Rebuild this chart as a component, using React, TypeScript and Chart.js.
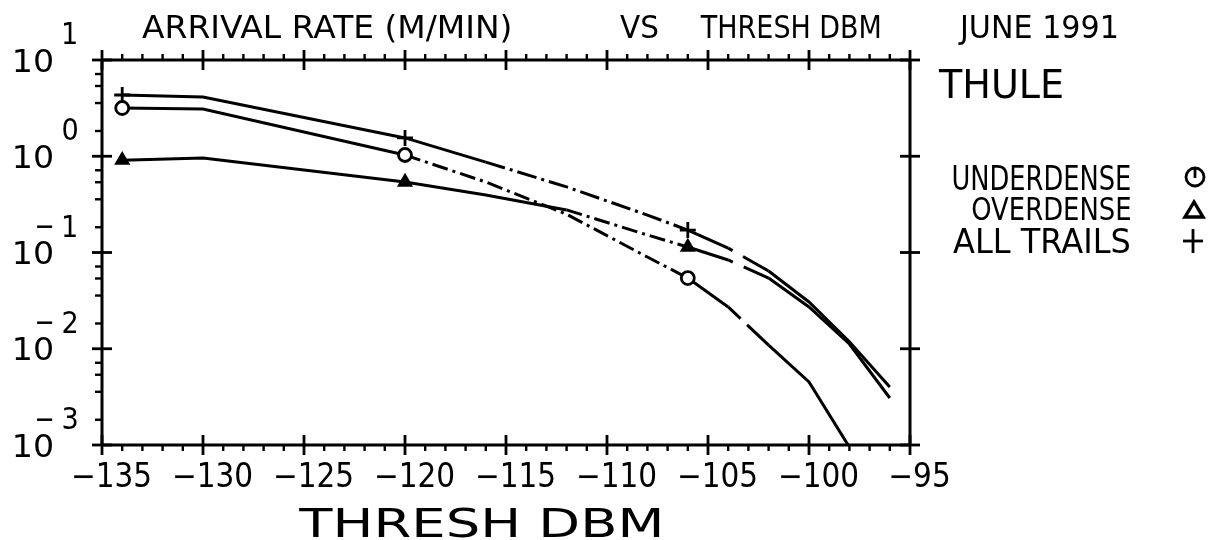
import React, { useEffect, useRef } from "react";
import { Chart, registerables } from "chart.js";

Chart.register(...registerables);

// ---- data ----
const THRESH_DBM = [-134, -130, -120, -116, -112, -108, -106, -104, -102, -100, -98, -96];
const UNDERDENSE = [3.17, 3.1, 1.03, 0.54, 0.25, 0.0897, 0.0543, 0.0272, 0.0109, 0.00452, 0.00095, null];
const OVERDENSE = [0.91, 0.96, 0.54, 0.396, 0.277, 0.152, 0.114, 0.0836, 0.0543, 0.0272, 0.0112, 0.00308];
const ALL_TRAILS = [4.33, 4.13, 1.55, 0.87, 0.48, 0.245, 0.171, 0.111, 0.0643, 0.0306, 0.0118, 0.00401];
const MARKER_X = [-134, -120, -106];

const X_TICKS = [-135, -130, -125, -120, -115, -110, -105, -100, -95];
const Y_DECADES = [1, 0, -1, -2, -3];
const Y_MINOR_MULT = [1.83, 3.57, 5.37, 7.15];

const TITLE_PARTS = ["ARRIVAL RATE (M/MIN)", "VS", "THRESH DBM", "JUNE 1991"];
const SITE = "THULE";
const X_TITLE = "THRESH DBM";
const LEGEND_LABELS = ["UNDERDENSE", "OVERDENSE", "ALL TRAILS"];

const FONT = '"DejaVu Sans", sans-serif';
const INK = "#000";

type InkOpts = {
  x: number;
  align?: "l" | "c" | "r";
  y: number;
  v?: "base" | "top" | "mid";
  w?: number;
  sx?: number;
};

function ink(ctx: CanvasRenderingContext2D, s: string, cap: number, o: InkOpts) {
  const fs = cap / 0.73;
  ctx.font = `${fs}px ${FONT}`;
  const m = ctx.measureText(s);
  const inkW = m.actualBoundingBoxLeft + m.actualBoundingBoxRight;
  const asc = m.actualBoundingBoxAscent;
  const desc = m.actualBoundingBoxDescent;
  const sx = o.w ? o.w / inkW : o.sx ?? 1;
  const W = inkW * sx;
  const align = o.align ?? "l";
  const left = align === "l" ? o.x : align === "c" ? o.x - W / 2 : o.x - W;
  const v = o.v ?? "base";
  const base = v === "base" ? o.y : v === "top" ? o.y + asc : o.y + (asc - desc) / 2;
  ctx.save();
  ctx.translate(left, base);
  ctx.scale(sx, 1);
  ctx.textAlign = "left";
  ctx.textBaseline = "alphabetic";
  ctx.fillStyle = INK;
  ctx.fillText(s, m.actualBoundingBoxLeft, 0);
  ctx.restore();
}

function line(ctx: CanvasRenderingContext2D, x1: number, y1: number, x2: number, y2: number, lw = 2.5) {
  ctx.beginPath();
  ctx.lineWidth = lw;
  ctx.moveTo(x1, y1);
  ctx.lineTo(x2, y2);
  ctx.stroke();
}

const bgPlugin = {
  id: "bg",
  beforeDraw(chart: any) {
    const ctx = chart.ctx;
    ctx.save();
    ctx.fillStyle = "#fff";
    ctx.fillRect(0, 0, chart.width, chart.height);
    ctx.restore();
  },
};

const axesPlugin = {
  id: "plotterAxes",
  afterDraw(chart: any) {
    const ctx: CanvasRenderingContext2D = chart.ctx;
    const { left, right, top, bottom } = chart.chartArea;
    const xs = chart.scales.x;
    const ys = chart.scales.y;
    ctx.save();
    ctx.strokeStyle = INK;
    ctx.fillStyle = INK;
    ctx.lineCap = "butt";
    // frame
    line(ctx, left, top, right, top, 3);
    line(ctx, left, bottom, right, bottom, 3);
    line(ctx, left, top, left, bottom, 3);
    line(ctx, right, top, right, bottom, 3);

    // x ticks
    for (let v = xs.min; v <= xs.max; v += 1) {
      const px = xs.getPixelForValue(v);
      if (X_TICKS.includes(v)) {
        line(ctx, px, bottom - 10, px, bottom + 10, 2.8);
        line(ctx, px, top - 10, px, top + 10, 2.8);
      } else {
        line(ctx, px, bottom, px, bottom + 6, 2.4);
        line(ctx, px, top - 6, px, top, 2.4);
      }
    }
    // y ticks
    Y_DECADES.forEach((d) => {
      const py = ys.getPixelForValue(Math.pow(10, d));
      line(ctx, left - 10, py, left + 10, py, 2.8);
      line(ctx, right - 10, py, right + 10, py, 2.8);
      if (d < 1) {
        Y_MINOR_MULT.forEach((m) => {
          const pm = ys.getPixelForValue(m * Math.pow(10, d));
          line(ctx, left - 7, pm, left, pm, 2.4);
        });
      }
    });

    // x tick labels
    X_TICKS.forEach((v) => {
      const px = xs.getPixelForValue(v);
      ink(ctx, "\u2212" + String(Math.abs(v)), 24, { x: px + 10, align: "c", y: 487, sx: 0.9 });
    });
    // x axis title
    ink(ctx, X_TITLE, 29, { x: 298, y: 537, w: 362 });

    // y tick labels: 10 with exponent
    Y_DECADES.forEach((d) => {
      const py = ys.getPixelForValue(Math.pow(10, d));
      ink(ctx, "10", 23, { x: 15, y: py, v: "mid", w: 37 });
      const digit = String(Math.abs(d));
      ink(ctx, digit, 22, { x: 70, align: "c", y: py - 38, v: "top", sx: 0.9 });
      if (d < 0) {
        ink(ctx, "\u2212", 22, { x: 37, y: py - 26, v: "mid", w: 16 });
      }
    });

    // title row
    ink(ctx, TITLE_PARTS[0], 23, { x: 142, y: 38, w: 368 });
    ink(ctx, TITLE_PARTS[1], 23, { x: 620, y: 38, w: 38 });
    ink(ctx, TITLE_PARTS[2], 23, { x: 700, y: 38, w: 180 });
    ink(ctx, TITLE_PARTS[3], 23, { x: 958, y: 38, w: 159 });
    ink(ctx, SITE, 28, { x: 938, y: 98, w: 124 });

    // legend
    ink(ctx, LEGEND_LABELS[0], 24, { x: 1130, align: "r", y: 190, w: 177 });
    ink(ctx, LEGEND_LABELS[1], 23, { x: 1130, align: "r", y: 220, w: 158 });
    ink(ctx, LEGEND_LABELS[2], 24, { x: 1130, align: "r", y: 253, w: 177 });
    // legend symbols
    ctx.lineWidth = 2.8;
    ctx.beginPath();
    ctx.arc(1195, 177, 9, 0, Math.PI * 2);
    ctx.stroke();
    line(ctx, 1195, 168, 1195, 178, 2.8);
    ctx.beginPath();
    ctx.moveTo(1194, 202);
    ctx.lineTo(1185, 217);
    ctx.lineTo(1203, 217);
    ctx.closePath();
    ctx.lineWidth = 3.4;
    ctx.stroke();
    line(ctx, 1183, 241, 1203, 241, 2.8);
    line(ctx, 1193, 229, 1193, 253, 2.8);
    ctx.restore();
  },
};

const toPoints = (vals: (number | null)[]) =>
  THRESH_DBM.map((x, i) => ({ x, y: vals[i] })).filter((p) => p.y !== null);

// dash-dot between start and -106, a short pen-lift just after -104
function dashStyle(start: number, pattern: number[], lift: number[]) {
  return (c: any) => {
    const x0 = c.p0.parsed.x;
    const x1 = c.p1.parsed.x;
    if (x0 >= start && x1 <= -106) return pattern;
    if (x0 === -104) return lift;
    return undefined;
  };
}

export default function App() {
  const ref = useRef<HTMLCanvasElement | null>(null);
  useEffect(() => {
    if (!ref.current) return;
    const markerRadius = (r: number) => (c: any) => (c.raw && MARKER_X.includes(c.raw.x) ? r : 0);
    const chart = new Chart(ref.current, {
      type: "line",
      data: {
        datasets: [
          {
            label: LEGEND_LABELS[0],
            data: toPoints(UNDERDENSE) as any,
            borderColor: INK,
            backgroundColor: "#fff",
            borderWidth: 3,
            pointStyle: "circle",
            pointRadius: markerRadius(6.5) as any,
            pointBorderWidth: 2.8,
            pointBorderColor: INK,
            pointBackgroundColor: "#fff",
            segment: { borderDash: dashStyle(-120, [16, 5, 3, 5], [17, 9, 300]) },
          },
          {
            label: LEGEND_LABELS[1],
            data: toPoints(OVERDENSE) as any,
            borderColor: INK,
            backgroundColor: INK,
            borderWidth: 3,
            pointStyle: "triangle",
            pointRadius: markerRadius(6.5) as any,
            pointBorderWidth: 2.8,
            pointBorderColor: INK,
            pointBackgroundColor: INK,
            segment: { borderDash: dashStyle(-112, [16, 5, 3, 5], [5, 12, 300]) },
          },
          {
            label: LEGEND_LABELS[2],
            data: toPoints(ALL_TRAILS) as any,
            borderColor: INK,
            backgroundColor: INK,
            borderWidth: 3,
            pointStyle: "cross",
            pointRadius: markerRadius(8) as any,
            pointBorderWidth: 2.8,
            pointBorderColor: INK,
            segment: { borderDash: dashStyle(-116, [20, 5, 3, 5], [5, 12, 300]) },
          },
        ],
      },
      options: {
        responsive: false,
        animation: false,
        devicePixelRatio: 1,
        layout: { padding: { left: 102, top: 60, right: 298, bottom: 95 } },
        scales: {
          x: { type: "linear", min: -135, max: -95, display: false },
          y: { type: "logarithmic", min: 0.001, max: 10, display: false },
        },
        elements: { line: { tension: 0 } },
        plugins: { legend: { display: false }, tooltip: { enabled: false }, title: { display: false } },
      },
      plugins: [bgPlugin, axesPlugin],
    });
    return () => chart.destroy();
  }, []);

  return (
    <div style={{ position: "fixed", left: 0, top: 0, width: 1208, height: 540, background: "#fff" }}>
      <canvas ref={ref} width={1208} height={540} style={{ display: "block", width: 1208, height: 540 }} />
    </div>
  );
}
